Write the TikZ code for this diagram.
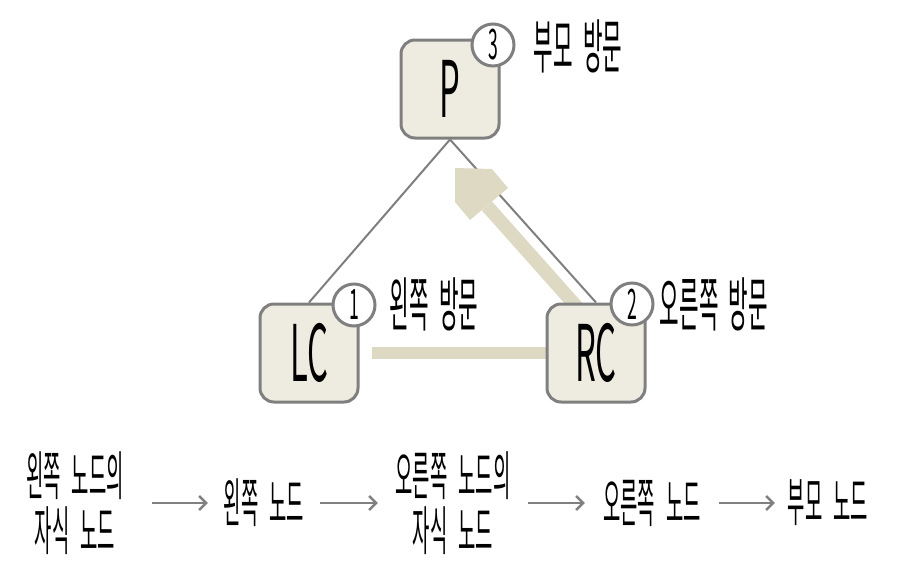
\documentclass[tikz,border=0pt]{standalone}
\usepackage{fontspec}
\setmainfont[FakeStretch=0.42]{Noto Sans CJK KR}
\newfontfamily\lblfont[FakeStretch=0.36,WordSpace=2.2]{Noto Sans CJK KR}
\newfontfamily\stepfont[FakeStretch=0.355,WordSpace=2.6]{Noto Sans CJK KR}
\usetikzlibrary{arrows.meta}
\pgfdeclarelayer{bg}
\pgfsetlayers{bg,main}
\definecolor{boxfill}{HTML}{EEECE1}
\definecolor{boxgray}{HTML}{7F7F7F}
\definecolor{tanc}{HTML}{DDD9C3}
\definecolor{arrowgray}{HTML}{808080}
\begin{document}
\begin{tikzpicture}[x=1pt,y=-1pt,
  box/.style={draw=boxgray, line width=3pt, fill=boxfill, rounded corners=14pt,
    minimum width=98pt, minimum height=98pt, inner sep=0pt,
    font=\fontsize{78}{78}\selectfont},
  badge/.style={circle, draw=boxgray, line width=3pt, fill=white,
    minimum size=42pt, inner sep=0pt, font=\fontsize{42}{42}\selectfont},
  lbl/.style={inner sep=0pt, font=\lblfont\fontsize{59}{59}\selectfont},
  steptext/.style={inner sep=0pt, align=center, font=\stepfont\fontsize{53}{55}\selectfont},
  flow/.style={draw=arrowgray, line width=2.5pt, -{Straight Barb[length=7pt,width=14pt]}},
  link/.style={draw=boxgray, line width=2pt},
  tanline/.style={draw=tanc, line width=12pt}
]
\useasboundingbox (0,0) rectangle (900,579);

% tree nodes
\node[box] (P) at (450,89) {P};
\node[box] (LC) at (309,353) {LC};
\node[box] (RC) at (596,353) {RC};

\begin{pgfonlayer}{bg}
  \draw[link] (P.south) -- (LC.north);
  \draw[link] (P.south) -- (RC.north);
  \draw[tanline] ([xshift=12pt]LC.east) -- (RC.west);
  \coordinate (shaftstart) at ([xshift=-16pt,yshift=-8pt]RC.north);
  \coordinate (headbase) at (487,206);
  \draw[tanline, line width=13.5pt] (shaftstart) -- (headbase);
  \fill[tanc] (455,168) -- (492,169) -- (508,188) -- (470,220) -- (455,202) -- cycle;
\end{pgfonlayer}

% badges
\node[badge] (b3) at (493,45) {3};
\node[badge] (b1) at (354,305) {1};
\node[badge] (b2) at (632,304) {2};

% labels
\node[lbl] (l3) at (578,46) {부모 방문};
\node[lbl] (l1) at (434,304) {왼쪽 방문};
\node[lbl] (l2) at (714,304) {오른쪽 방문};

% bottom sequence
\node[steptext, minimum width=154pt] (t1) at (75,503) {왼쪽 노드의\\자식 노드};
\node[steptext, minimum width=112pt] (t2) at (264,503) {왼쪽 노드};
\node[steptext, minimum width=150pt] (t3) at (453,503) {오른쪽 노드의\\자식 노드};
\node[steptext, minimum width=134pt] (t4) at (652,503) {오른쪽 노드};
\node[steptext, minimum width=106pt] (t5) at (828,503) {부모 노드};

\draw[flow] (t1) -- (t2);
\draw[flow] (t2) -- (t3);
\draw[flow] (t3) -- (t4);
\draw[flow] (t4) -- (t5);
\end{tikzpicture}
\end{document}
